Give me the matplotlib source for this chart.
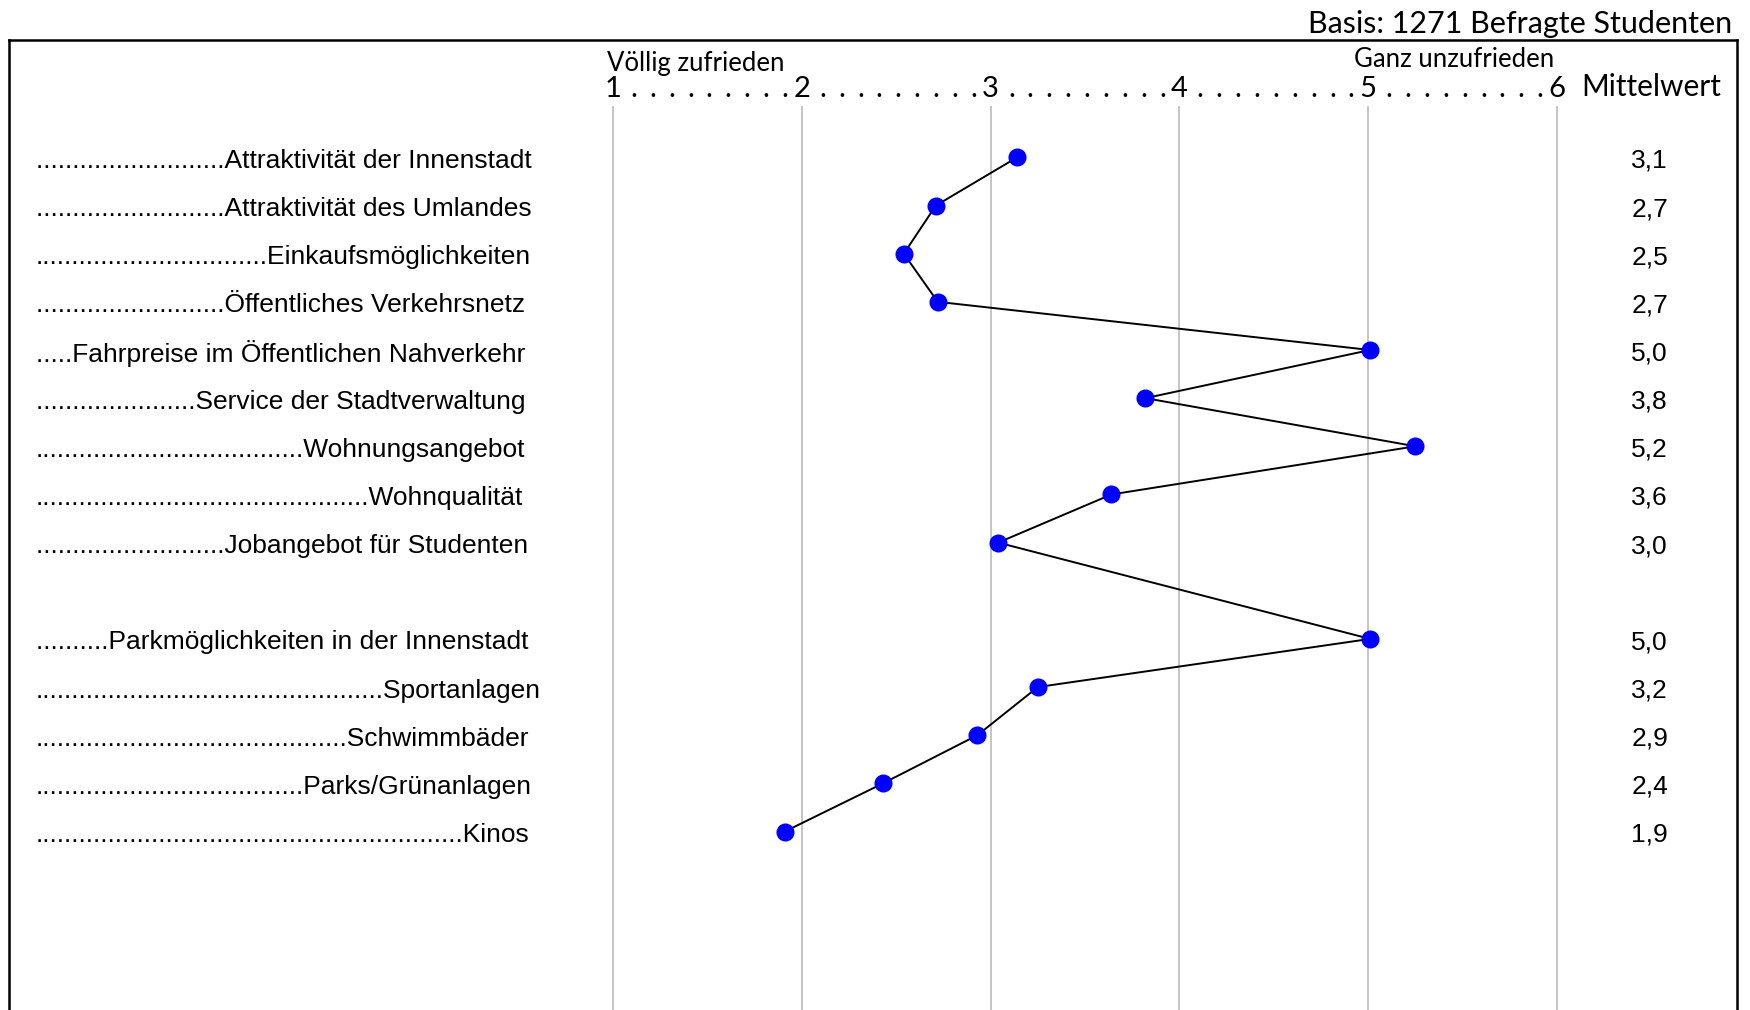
import numpy as np
import matplotlib.pyplot as plt

# items (top to bottom), None = empty row
items = ["Attraktivität der Innenstadt", "Attraktivität des Umlandes",
         "Einkaufsmöglichkeiten", "Öffentliches Verkehrsnetz",
         "Fahrpreise im Öffentlichen Nahverkehr", "Service der Stadtverwaltung",
         "Wohnungsangebot", "Wohnqualität", "Jobangebot für Studenten",
         None,
         "Parkmöglichkeiten in der Innenstadt", "Sportanlagen", "Schwimmbäder",
         "Parks/Grünanlagen", "Kinos"]
lead_dots = [26, 26, 32, 26, 5, 22, 37, 46, 26, 0, 10, 48, 43, 37, 59]
means = [3.14, 2.71, 2.54, 2.72, 5.01, 3.82, 5.25, 3.64, 3.04, None,
         5.01, 3.25, 2.93, 2.43, 1.91]
scale = [1, 2, 3, 4, 5, 6]

fig = plt.figure(figsize=(17.5, 10.1), dpi=100)
ax = fig.add_axes([9/1750, 0, 1728/1750, 970/1010])
ax.set_xlim(-2.199, 6.953)
ax.set_ylim(17.707, -2.438)
ax.set_xticks([])
ax.set_yticks([])
ax.spines['bottom'].set_visible(False)
for s in ['left', 'top', 'right']:
    ax.spines[s].set_linewidth(1.8)

# grid lines
ax.vlines(scale, -1.07, 17.707, color='#c0c0c0', lw=1.3, zorder=1)

# header scale 1 . . . . 2 ...
hfont = 'Lato'
for v in scale:
    ax.text(v, -1.255, str(v), ha='center', va='baseline', fontsize=21, family=hfont)
    if v < 6:
        for j in range(1, 10):
            ax.text(v + 0.1 * j + 0.01, -1.255, '.', ha='center', va='baseline',
                    fontsize=21, family=hfont)
ax.text(0.968, -1.80, 'Völlig zufrieden', ha='left', va='baseline', fontsize=18.5, family=hfont)
ax.text(4.925, -1.88, 'Ganz unzufrieden', ha='left', va='baseline', fontsize=18.5, family=hfont)
ax.text(6.128, -1.275, 'Mittelwert', ha='left', va='baseline', fontsize=21.5, family=hfont)
fig.text(0.990, 1 - 33/1010, 'Basis: 1271 Befragte Studenten', ha='right', va='baseline',
         fontsize=22, family=hfont)

# labels and mean values
rows = np.arange(len(items))
for r, name, nd, m in zip(rows, items, lead_dots, means):
    if name is None:
        continue
    ax.text(-2.056, r + 0.02, '.' * nd + name, ha='left', va='center_baseline',
            fontsize=19, family='Liberation Sans')
    ax.text(6.49, r + 0.02, f'{m:.1f}'.replace('.', ','), ha='center', va='center_baseline',
            fontsize=19, family='Liberation Sans')

# profile line
xs = [m for m in means if m is not None]
ys = [r for r, m in zip(rows, means) if m is not None]
ax.plot(xs, ys, color='black', lw=1.4, zorder=2)
ax.plot(xs, ys, 'o', color='#0000ff', markersize=12, zorder=3)

fig.savefig('out.png', dpi=100)
